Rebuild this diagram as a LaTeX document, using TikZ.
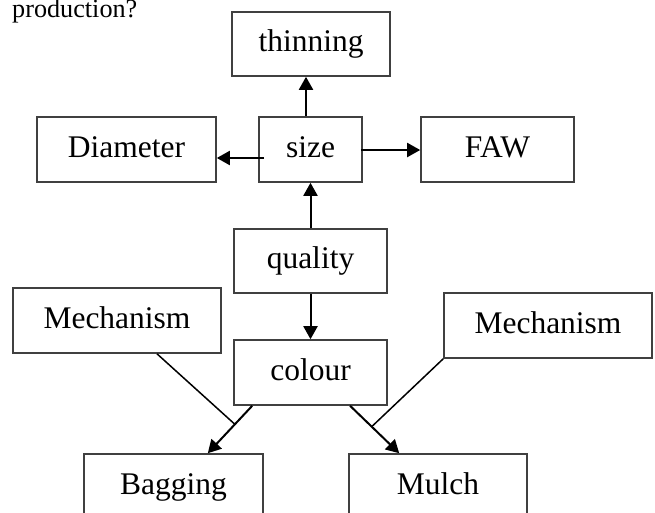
\documentclass[tikz,border=0pt]{standalone}
\usepackage{fontspec}
\setmainfont{Liberation Serif}
\usetikzlibrary{arrows.meta,calc}

\tikzset{
  box/.style={draw=black!75, line width=1.6pt, rectangle, inner sep=0pt,
              text height=22pt, text depth=7pt,
              font=\fontsize{31.5}{36}\selectfont},
  arr/.style={draw=black, line width=2pt,
              -{Triangle[length=13pt,width=14pt]}},
  link/.style={draw=black, line width=1.5pt},
}

\begin{document}
\begin{tikzpicture}[x=1pt,y=-1pt]
  \useasboundingbox (0,0) rectangle (655,512);
  \clip (0,0) rectangle (655,512);

  % heading fragment
  \node[anchor=base west, inner sep=0pt, font=\fontsize{26.2}{30}\selectfont]
    (head) at (12,17.5) {production?};

  % boxes
  \node[box, minimum width=158pt, minimum height=64pt] (thin) at (311,44) {thinning};
  \node[box, minimum width=103pt, minimum height=65pt] (size) at (310.5,149.5) {size};
  \node[box, minimum width=179pt, minimum height=65pt] (diam) at (126.5,149.5) {Diameter};
  \node[box, minimum width=153pt, minimum height=65pt] (faw) at (497.5,149.5) {FAW};
  \node[box, minimum width=153pt, minimum height=64pt] (qual) at (310.5,261) {quality};
  \node[box, minimum width=153pt, minimum height=65pt] (col) at (310.5,372.5) {colour};
  \node[box, minimum width=208pt, minimum height=65pt] (mechL) at (117,320.5) {Mechanism};
  \node[box, minimum width=208pt, minimum height=65pt] (mechR) at (548,325.5) {Mechanism};
  \node[box, minimum width=179pt, minimum height=65pt] (bag) at (173.5,486.5) {Bagging};
  \node[box, minimum width=178pt, minimum height=65pt] (mulch) at (438,486.5) {Mulch};

  % arrows around "size"
  \coordinate (tstart) at ([xshift=-4.5pt]size.north);
  \draw[arr] (tstart) -- (tstart |- thin.south);
  \coordinate (dstart) at ([xshift=6pt,yshift=-8.5pt]size.west);
  \draw[arr] (dstart) -- (dstart -| diam.east);
  \coordinate (fstart) at ([xshift=-2pt,yshift=-0.5pt]size.east);
  \draw[arr] (fstart) -- (fstart -| faw.west);

  % quality to size and colour
  \draw[arr] (qual.north) -- (size.south);
  \draw[arr] (qual.south) -- (col.north);

  % colour to bagging and mulch
  \coordinate (bstart) at ([xshift=19pt]col.south west);
  \coordinate (bend) at ([xshift=-56pt]bag.north east);
  \draw[arr] (bstart) -- (bend);
  \coordinate (mstart) at ([xshift=-37.7pt]col.south east);
  \coordinate (mend) at ([xshift=51pt]mulch.north west);
  \draw[arr] (mstart) -- (mend);

  % mechanism links meeting the arrows
  \draw[link] ([xshift=40pt]mechL.south) -- ($(bstart)!0.39!(bend)$);
  \draw[link] (mechR.south west) -- ($(mstart)!0.44!(mend)$);
\end{tikzpicture}
\end{document}
